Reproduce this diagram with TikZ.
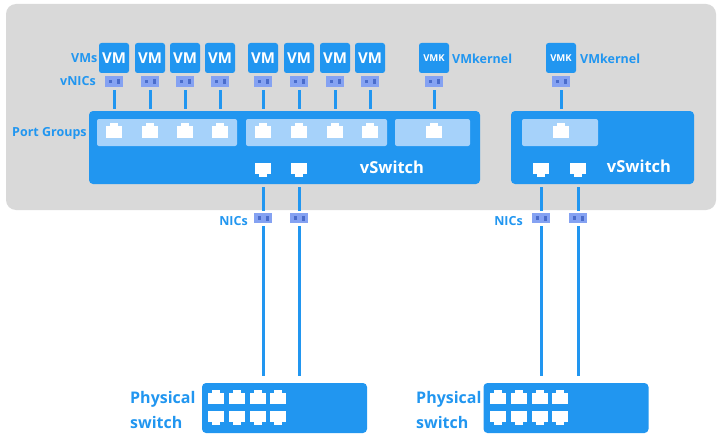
\documentclass[tikz,border=0pt]{standalone}
\usepackage{fontspec}
\setmainfont{Open Sans}
\usetikzlibrary{positioning}
\definecolor{hostgray}{HTML}{D9D9D9}
\definecolor{swblue}{HTML}{2196F0}
\definecolor{pglight}{HTML}{A6D2FA}
\definecolor{nicfill}{HTML}{85A2F2}
\definecolor{nicdark}{HTML}{4A6CCB}
\begin{document}
\begin{tikzpicture}[x=1pt,y=-1pt,node distance=3pt,
  host/.style={fill=hostgray,rounded corners=10pt,inner sep=0pt},
  vswitch/.style={fill=swblue,rounded corners=4pt,inner sep=0pt},
  pgroup/.style={fill=pglight,rounded corners=2pt,inner sep=0pt,minimum height=27pt},
  vmbox/.style={fill=swblue,rounded corners=2.5pt,minimum size=30pt,inner sep=0pt,text=white,font=\bfseries\fontsize{15}{15}\selectfont},
  vmk/.style={vmbox,font=\bfseries\fontsize{9.5}{10}\selectfont},
  nicicon/.style={fill=nicfill,minimum width=18pt,minimum height=10.5pt,inner sep=0pt,
    path picture={\fill[nicdark] ([xshift=-5pt,yshift=2pt]path picture bounding box.center) rectangle +(3pt,-3.5pt);
      \fill[nicdark] ([xshift=3pt,yshift=2.5pt]path picture bounding box.center) rectangle +(2.5pt,-5pt);}},
  port/.style={fill=white,minimum width=16pt,minimum height=11.5pt,inner sep=0pt},
  lbl/.style={text=swblue,font=\bfseries\fontsize{12.5}{13}\selectfont,inner sep=0pt},
  biglbl/.style={text=swblue,font=\bfseries\fontsize{16}{25}\selectfont,inner sep=0pt,align=left},
  link/.style={draw=swblue,line width=3pt,shorten >=2pt,shorten <=3pt}]
  \useasboundingbox (0,0) rectangle (720,436);
  \node[host,minimum width=710pt,minimum height=206pt] (esxi) at (361,107) {};
  % vSwitches and port groups
  \node[vswitch,minimum width=391pt,minimum height=73pt] (sw1) at (284.5,147.5) {};
  \node[vswitch,minimum width=183pt,minimum height=73pt] (sw2) at (602.5,147.5) {};
  \node[pgroup,minimum width=140pt] (pg1) at (167,132.5) {};
  \node[pgroup,minimum width=141pt] (pg2) at (316.5,132.5) {};
  \node[pgroup,minimum width=75pt] (pg3) at (432.5,132.5) {};
  \node[pgroup,minimum width=76pt] (pg4) at (560,132.5) {};
  \node[text=white,font=\bfseries\fontsize{16.5}{17}\selectfont,inner sep=0pt] (swname1) at (392,167) {vSwitch};
  \node[text=white,font=\bfseries\fontsize{16.5}{17}\selectfont,inner sep=0pt] (swname2) at (639,166) {vSwitch};
  % VMs, vNICs and their ports
  \foreach \n/\x/\s in {1/114/vmbox,2/150/vmbox,3/185/vmbox,4/220/vmbox,5/263/vmbox,6/299/vmbox,7/335/vmbox,8/370/vmbox,9/434/vmk,10/561/vmk}{
    \ifnum\n<9 \def\t{VM}\else\def\t{VMK}\fi
    \node[\s] (vm\n) at (\x,58) {\t};
    \node[nicicon,below=of vm\n] (vnic\n) {};
    \node[port] (vp\n) at (\x,132) {};
    \fill[white] ([xshift=-4pt]vp\n.north) rectangle ([xshift=4pt,yshift=3pt]vp\n.north);
  }
  \foreach \n in {1,...,9}
    \draw[link] (vnic\n.south) -- (vnic\n.south |- sw1.north);
  \draw[link] (vnic10.south) -- (vnic10.south |- sw2.north);
  % uplinks
  \foreach \n/\x/\s in {1/263/sw1,2/299/sw1,3/541/sw2,4/578/sw2}{
    \node[port] (up\n) at (\x,168.5) {};
    \fill[white] ([xshift=-4pt]up\n.south) rectangle ([xshift=4pt,yshift=-3pt]up\n.south);
    \node[nicicon] (nic\n) at (\x,218) {};
    \draw[link] (up\n |- \s.south) -- (nic\n.north);
    \coordinate (end\n) at (\x,376);
    \draw[link,shorten >=0pt] (nic\n.south) -- (end\n);
  }
  % physical switches
  \node[vswitch,minimum width=165pt,minimum height=50pt] (ps1) at (284.5,408) {};
  \node[vswitch,minimum width=165pt,minimum height=50pt] (ps2) at (566,408) {};
  \foreach \a/\o in {a/0,b/282}
    \foreach \n/\x in {1/216,2/237,3/258,4/278}{
      \node[port] (\a top\n) at (\x+\o,398.5) {};
      \fill[white] ([xshift=-4pt]\a top\n.north) rectangle ([xshift=4pt,yshift=3pt]\a top\n.north);
      \node[port] (\a bot\n) at (\x+\o,416.5) {};
      \fill[white] ([xshift=-4pt]\a bot\n.south) rectangle ([xshift=4pt,yshift=-3pt]\a bot\n.south);
    }
  % labels
  \node[lbl,anchor=east] (vmstxt) at (97.5,58) {VMs};
  \node[lbl,anchor=east] (vnicstxt) at (96,81) {vNICs};
  \node[lbl,anchor=west] (pgtxt) at (12,133) {Port Groups};
  \node[lbl,anchor=west] (ktxt1) at (452,58.5) {VMkernel};
  \node[lbl,anchor=west] (ktxt2) at (580,58.5) {VMkernel};
  \node[lbl,anchor=east] (nicstxt1) at (248,221) {NICs};
  \node[lbl,anchor=east] (nicstxt2) at (523,221) {NICs};
  \node[biglbl,anchor=west] (phys1) at (130,410) {Physical\\switch};
  \node[biglbl,anchor=west] (phys2) at (416,410) {Physical\\switch};
\end{tikzpicture}
\end{document}
